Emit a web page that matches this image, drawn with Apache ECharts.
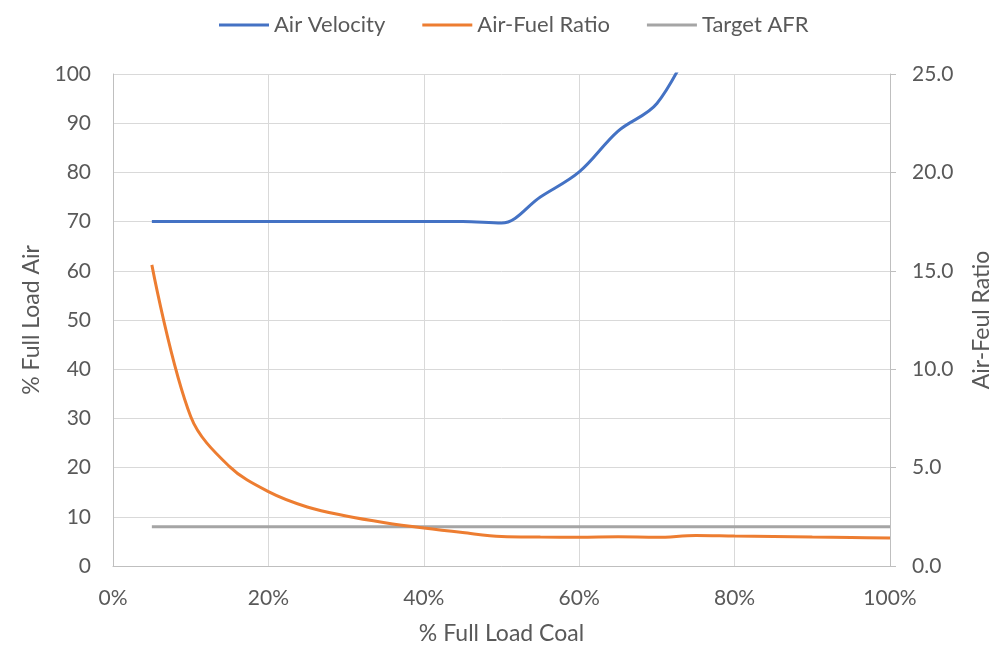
<!DOCTYPE html>
<html>
<head>
<meta charset="utf-8">
<script src="https://cdn.jsdelivr.net/npm/echarts@6/dist/echarts.min.js"></script>
<style>
  html, body { margin: 0; padding: 0; background: #fff; }
  #chart { width: 994px; height: 647px; }
</style>
</head>
<body>
<div id="chart"></div>
<script>
// % full load coal (x positions of the samples)
const coalLoad = [5, 10, 15, 20, 25, 30, 35, 40, 45, 50, 55, 60, 65, 70, 75, 80, 85, 90, 95, 100];
// % full load air (left axis); runs off the top of the scale after ~73 %
const airVelocity = [70, 70, 70, 70, 70, 70, 70, 70, 70, 69.7, 75, 80.1, 88.4, 94, 108];
// air-fuel ratio (right axis)
const airFuelRatio = [15.3, 7.6, 5.05, 3.78, 3.0, 2.54, 2.2, 1.93, 1.7, 1.5, 1.47, 1.46, 1.48, 1.46, 1.55, 1.52, 1.5, 1.47, 1.45, 1.42];
// target air-fuel ratio (right axis)
const targetAFR = coalLoad.map(() => 2.0);

const pairs = (xs, ys) => ys.map((v, i) => [xs[i], v]);

const FONT = 'Lato';
const TXT = '#595959';
const GRID = '#d9d9d9';
const AXIS = '#bfbfbf';
const TICK_SIZE = 21;
const TITLE_SIZE = 23;

const chart = echarts.init(document.getElementById('chart'));
chart.setOption({
  animation: false,
  textStyle: { fontFamily: FONT, color: TXT },
  legend: {
    top: 9,
    left: 214,
    icon: 'rect',
    itemWidth: 50,
    itemHeight: 3,
    itemGap: 37,
    textStyle: { fontFamily: FONT, fontSize: 22, color: TXT },
    data: ['Air Velocity', 'Air-Fuel Ratio', 'Target AFR']
  },
  grid: { left: 113, right: 104, top: 74, bottom: 81, outerBoundsMode: 'none', containLabel: false },
  xAxis: {
    type: 'value',
    min: 0, max: 100, interval: 20,
    name: '% Full Load Coal',
    nameLocation: 'middle',
    nameGap: 56,
    nameTextStyle: { fontFamily: FONT, fontSize: TITLE_SIZE, color: TXT },
    axisLine: { show: true, lineStyle: { color: AXIS, width: 1 } },
    axisTick: { show: false },
    axisLabel: { formatter: '{value}%', fontFamily: FONT, fontSize: TICK_SIZE, color: TXT, margin: 22 },
    splitLine: { show: true, lineStyle: { color: GRID, width: 1 } }
  },
  yAxis: [
    {
      type: 'value',
      min: 0, max: 100, interval: 10,
      name: '% Full Load Air',
      nameLocation: 'middle',
      nameGap: 68,
      nameTextStyle: { fontFamily: FONT, fontSize: TITLE_SIZE, color: TXT },
      axisLine: { show: true, lineStyle: { color: AXIS, width: 1 } },
      axisTick: { show: false },
      axisLabel: { fontFamily: FONT, fontSize: TICK_SIZE, color: TXT, margin: 22 },
      splitLine: { show: true, lineStyle: { color: GRID, width: 1 } }
    },
    {
      type: 'value',
      min: 0, max: 25, interval: 5,
      position: 'right',
      name: 'Air-Feul Ratio',
      nameLocation: 'middle',
      nameGap: 80,
      nameTextStyle: { fontFamily: FONT, fontSize: TITLE_SIZE, color: TXT },
      axisLine: { show: true, lineStyle: { color: AXIS, width: 1 } },
      axisTick: { show: true, inside: false, length: 6, lineStyle: { color: AXIS } },
      axisLabel: { formatter: v => v.toFixed(1), fontFamily: FONT, fontSize: TICK_SIZE, color: TXT, margin: 22 },
      splitLine: { show: false }
    }
  ],
  series: [
    {
      name: 'Air Velocity',
      type: 'line',
      yAxisIndex: 0,
      data: pairs(coalLoad, airVelocity),
      smooth: 0.35,
      clip: true,
      showSymbol: false,
      lineStyle: { color: '#4472C4', width: 3 },
      itemStyle: { color: '#4472C4' },
      z: 4
    },
    {
      name: 'Air-Fuel Ratio',
      type: 'line',
      yAxisIndex: 1,
      data: pairs(coalLoad, airFuelRatio),
      smooth: 0.35,
      showSymbol: false,
      lineStyle: { color: '#ED7D31', width: 3 },
      itemStyle: { color: '#ED7D31' },
      z: 3
    },
    {
      name: 'Target AFR',
      type: 'line',
      yAxisIndex: 1,
      data: pairs(coalLoad, targetAFR),
      showSymbol: false,
      lineStyle: { color: '#A5A5A5', width: 3 },
      itemStyle: { color: '#A5A5A5' },
      z: 2
    }
  ]
});
</script>
</body>
</html>
